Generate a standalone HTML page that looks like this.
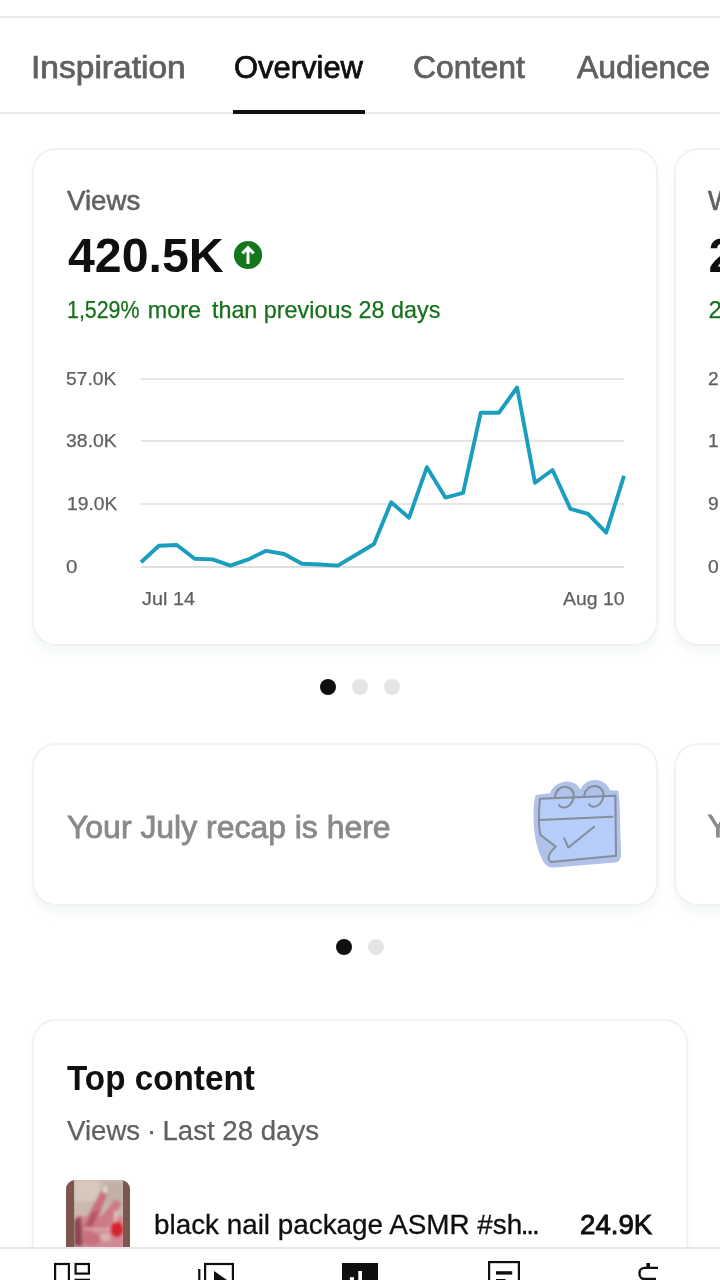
<!DOCTYPE html>
<html><head><meta charset="utf-8">
<style>
*{margin:0;padding:0;box-sizing:border-box}
html,body{width:720px;height:1280px;overflow:hidden;background:#fff;font-family:"Liberation Sans",sans-serif;color:#0f0f0f}
.abs{position:absolute}
#topline{left:0;top:16px;width:720px;height:2px;background:#e8eaea}
#tabline{left:0;top:112px;width:720px;height:2px;background:#e8eaea}
.tab{-webkit-text-stroke:0.750px #606060;top:49px;font-size:31px;line-height:38px;color:#606060;white-space:nowrap;transform-origin:0 50%}
.tab.on{color:#0f0f0f;-webkit-text-stroke-color:#0f0f0f}
#ind{left:233px;top:110px;width:132px;height:4px;background:#0f0f0f}
.card{border:2px solid #f0f3f3;border-radius:24px;background:#fff;box-shadow:0 7px 8px rgba(195,218,210,.18)}
.t{white-space:nowrap;position:absolute;transform-origin:0 50%}
.gl{position:absolute;left:141px;width:483px;height:2px;background:#e5e5e5}
.yl{font-size:19px;color:#606060;left:66px;-webkit-text-stroke:0.250px #606060}
.dot{position:absolute;width:16px;height:16px;border-radius:50%;background:#e5e5e5}
.dot.on{background:#0f0f0f}
</style></head><body>
<div class="abs" id="topline"></div>
<div id="tab1" class="abs tab t" style="left:30.5px;transform:scaleX(1.0816)">Inspiration</div>
<div id="tab2" class="abs tab t on" style="left:234px;transform:scaleX(0.9980)">Overview</div>
<div id="tab3" class="abs tab t" style="left:413.4px;transform:scaleX(1.0300)">Content</div>
<div id="tab4" class="abs tab t" style="left:576.6px;transform:scaleX(1.0290)">Audience</div>
<div class="abs" id="tabline"></div>
<div class="abs" id="ind"></div>

<!-- views card -->
<div class="abs card" style="left:32px;top:148px;width:626px;height:498px"></div>
<div class="abs card" style="left:674px;top:148px;width:100px;height:498px"></div>
<div class="t" id="views" style="left:67.2px;top:184px;font-size:27px;line-height:34px;color:#606060;-webkit-text-stroke:0.550px #606060;transform:scaleX(1.0240)">Views</div>
<div class="t" id="big" style="left:67.7px;top:227.8px;font-size:48px;line-height:56px;font-weight:bold;transform:scaleX(1.0057)">420.5K</div>
<svg class="abs" style="left:232px;top:239px" width="32" height="32" viewBox="232 239 32 32"><circle cx="248" cy="255" r="14.100" fill="#14771b"/><path d="M248 264V248M242.300 253.400L248 247.700l5.700 5.700" fill="none" stroke="#fff" stroke-width="3"/></svg>
<div class="t" id="pct" style="left:66.800px;top:294.600px;font-size:24px;line-height:30px;color:#14701a;-webkit-text-stroke:0.250px #14701a;transform:scaleX(0.9730)"><span style="display:inline-block;transform:scaleX(.915);transform-origin:0 50%;margin-right:-5px">1,529%</span> <span style="margin-right:4.500px">more</span> than previous 28 days</div>
<div class="t" style="left:708px;top:184px;font-size:27px;line-height:34px;color:#606060;-webkit-text-stroke:0.550px #606060;transform:scaleX(1.024)">Watch time</div>
<div class="t" style="left:708.500px;top:227.800px;font-size:48px;line-height:56px;font-weight:bold">2.1K</div>
<div class="t" style="left:708.500px;top:294.600px;font-size:24px;line-height:30px;color:#14701a;-webkit-text-stroke:0.250px #14701a">2,000% more</div>

<div class="gl" style="top:378px"></div>
<div class="gl" style="top:440px"></div>
<div class="gl" style="top:503px"></div>
<div class="gl" style="top:566px;background:#dedede"></div>
<div class="t yl" id="y1" style="left:66.3px;top:368.3px;line-height:22px;transform:scaleX(1.0142)">57.0K</div>
<div class="t yl" id="y2" style="left:66px;top:430.3px;line-height:22px;transform:scaleX(1.0241)">38.0K</div>
<div class="t yl" id="y3" style="left:66.8px;top:493.3px;line-height:22px;transform:scaleX(1.0133)">19.0K</div>
<div class="t yl" id="y4" style="left:65.5px;top:556.3px;line-height:22px;transform:scaleX(1.0800)">0</div>
<div class="t yl" style="top:368px;line-height:22px;left:708.3px;letter-spacing:1.300px;transform:scaleX(1.01)">27.0</div>
<div class="t yl" style="top:430px;line-height:22px;left:708.3px;letter-spacing:1.300px;transform:scaleX(1.01)">18.0</div>
<div class="t yl" style="top:493px;line-height:22px;left:708.3px;letter-spacing:1.300px;transform:scaleX(1.01)">9.0</div>
<div class="t yl" style="top:556px;line-height:22px;left:708.3px;letter-spacing:1.300px;transform:scaleX(1.01)">0</div>
<div class="t yl" id="x1" style="top:588px;line-height:22px;left:141.5px;transform:scaleX(1.0444)">Jul 14</div>
<div class="t yl" id="x2" style="top:588px;line-height:22px;left:562.7px;transform:scaleX(1.0208)">Aug 10</div>
<svg class="abs" style="left:0;top:0" width="720" height="720" viewBox="0 0 720 720"><polyline id="ln" fill="none" stroke="#1b9dbd" stroke-width="3.900" stroke-linecap="butt" stroke-linejoin="round" points="141,562.3 158.9,545.7 176.8,545 194.7,558.7 212.6,559.4 230.4,565.6 248.3,559.4 266.2,550.8 284.1,554 302,563.8 319.9,564.5 337.8,565.6 355.7,555 374,544 391.2,502.2 409,517.8 426.9,467.2 445.4,497.6 463.1,492.9 480.7,412.8 498.8,412.8 517.1,387.5 535,482.8 552.5,470 570.4,508.9 588,513.9 606.2,532.6 624,475.8"/></svg>

<div class="dot on" style="left:320px;top:679px"></div>
<div class="dot" style="left:352px;top:679px"></div>
<div class="dot" style="left:384px;top:679px"></div>

<!-- recap card -->
<div class="abs card" style="left:32px;top:743px;width:626px;height:163px"></div>
<div class="abs card" style="left:674px;top:743px;width:100px;height:163px"></div>
<div class="t" id="recap" style="-webkit-text-stroke:0.800px #898989;left:67.4px;top:808.5px;font-size:31px;line-height:38px;color:#898989;transform:scaleX(1.0299)">Your July recap is here</div>
<div class="t" style="left:707.500px;top:808px;-webkit-text-stroke:0.800px #898989;font-size:31px;line-height:38px;color:#898989">Your</div>
<svg class="abs" style="left:520px;top:770px" width="120" height="110" viewBox="0 0 720 660">
<path fill="#b0c1ea" d="M95,150 L180,140 C190,110 215,80 270,70 C320,65 350,90 362,118 C375,85 410,60 450,60 C500,62 530,90 540,122 L590,125 C600,200 600,300 603,400 C606,480 610,520 600,535 C590,555 570,555 550,557 L210,585 C170,588 150,570 135,540 C100,470 85,400 82,300 C80,230 85,180 95,150 Z"/>
<path fill="#b5cdf8" d="M120,172 L572,155 L575,515 L185,552 C160,530 175,500 215,460 L120,385 L112,300 Z"/>
<g fill="none" stroke="#858d99" stroke-width="12" stroke-linecap="round" stroke-linejoin="round">
<path d="M120,172 L572,155 L576,515 L185,552 C155,525 180,495 215,460 L122,388 C112,340 112,250 120,172"/>
<path d="M115,300 L555,280"/>
<path d="M210,162 C215,120 245,98 270,100 C305,102 328,130 322,165 C316,200 290,225 262,225 C248,225 238,218 235,210"/>
<path d="M385,152 C392,115 420,95 448,96 C482,98 506,125 500,160 C494,195 470,220 442,220 C428,220 418,213 415,205"/>
<path d="M265,410 L290,465 L445,340"/>
</g></svg>
<div class="dot on" style="left:336px;top:939px"></div>
<div class="dot" style="left:368px;top:939px"></div>

<!-- top content -->
<div class="abs card" style="left:32px;top:1019px;width:656px;height:400px"></div>
<div class="t" id="topc" style="left:67.2px;top:1058.3px;font-size:35px;line-height:40px;font-weight:bold;transform:scaleX(0.9501)">Top content</div>
<div class="t" id="sub" style="left:66.900px;top:1114px;font-size:27px;line-height:34px;color:#606060;-webkit-text-stroke:0.250px #606060;transform:scaleX(1.0221)">Views<span style="letter-spacing:-0.700px"> · </span>Last 28 days</div>
<div class="abs" style="left:66px;top:1180px;width:64px;height:80px;border-radius:9px;background:#7c5750;overflow:hidden">
<svg class="abs" style="left:0;top:0" width="64" height="80" viewBox="58 38 606 758">
<defs><filter id="bl" x="-20%" y="-20%" width="140%" height="140%"><feGaussianBlur stdDeviation="13"/></filter>
<clipPath id="cp"><rect x="135" y="38" width="463" height="760"/></clipPath></defs>
<rect x="135" y="38" width="463" height="760" fill="#cbb9ae"/>
<g clip-path="url(#cp)"><g filter="url(#bl)">
<rect x="135" y="38" width="240" height="200" fill="#d6c8bc"/>
<rect x="420" y="60" width="180" height="200" fill="#c2b0a6"/>
<rect x="135" y="380" width="470" height="420" fill="#d18a94"/>
<path d="M180,540 L390,140 L450,170 L300,560 Z" fill="#c9707c"/>
<path d="M300,500 L520,220 L590,260 L420,520 Z" fill="#cf7a86"/>
<path d="M135,420 L200,380 L215,660 L135,660 Z" fill="#8e4750"/>
<path d="M300,350 L370,330 L300,480 L250,480Z" fill="#b25562"/>
<ellipse cx="540" cy="505" rx="62" ry="75" fill="#d4222e"/>
<path d="M420,100 L445,95 L440,165 L415,160Z" fill="#ece6e2"/>
<rect x="220" y="498" width="260" height="12" fill="#ecc9c9"/>
<rect x="520" y="330" width="14" height="110" fill="#f0dcd8"/>
<ellipse cx="300" cy="600" rx="90" ry="60" fill="#c66f7c"/>
<ellipse cx="430" cy="580" rx="50" ry="40" fill="#ddb0b0"/>
</g></g>
</svg>
</div>
<div class="t" id="item" style="left:154.2px;top:1207.500px;font-size:28px;line-height:34px;-webkit-text-stroke:0.300px #0f0f0f;transform:scaleX(0.9940)">black nail package ASMR #sh<span style="letter-spacing:-2.100px;margin-left:-1.600px">...</span></div>
<div class="t" id="val" style="left:580.4px;top:1207.500px;font-size:28px;line-height:34px;-webkit-text-stroke:0.900px #0f0f0f;transform:scaleX(0.9874)">24.9K</div>

<!-- bottom nav -->
<div class="abs" style="left:0;top:1247px;width:720px;height:33px;background:#fff;border-top:2px solid #e7e7e7"></div>
<svg class="abs" style="left:0;top:1249px" width="720" height="31" viewBox="0 1249 720 31">
<g fill="none" stroke="#0f0f0f" stroke-width="2.2">
<rect x="55.100" y="1264" width="13.800" height="30"/>
<rect x="75.600" y="1264" width="13.300" height="9.600"/>
<rect x="75.600" y="1279.800" width="13.300" height="20"/>
<rect x="205.100" y="1264" width="27.800" height="30"/>
<rect x="489.100" y="1262.100" width="29.800" height="30"/>
<path d="M658 1267.900H644.500a5 5 0 0 0-5 5V1274a5 5 0 0 0 5 5H656" stroke-width="2.400"/>
</g>
<g fill="#0f0f0f">
<rect x="198.200" y="1269" width="2.200" height="20"/>
<path d="M214 1271L227 1280L214 1289Z"/>
<rect x="342" y="1263" width="36" height="30"/>
<rect x="496" y="1271.200" width="16.200" height="3.400"/>
<rect x="496" y="1279" width="9.500" height="3"/>
<rect x="646.400" y="1263" width="3.600" height="5"/>
</g>
<g fill="#fff">
<rect x="358.300" y="1271" width="3.700" height="20"/>
<rect x="349.900" y="1277.200" width="4" height="10"/>
</g>
</svg>
</body></html>
